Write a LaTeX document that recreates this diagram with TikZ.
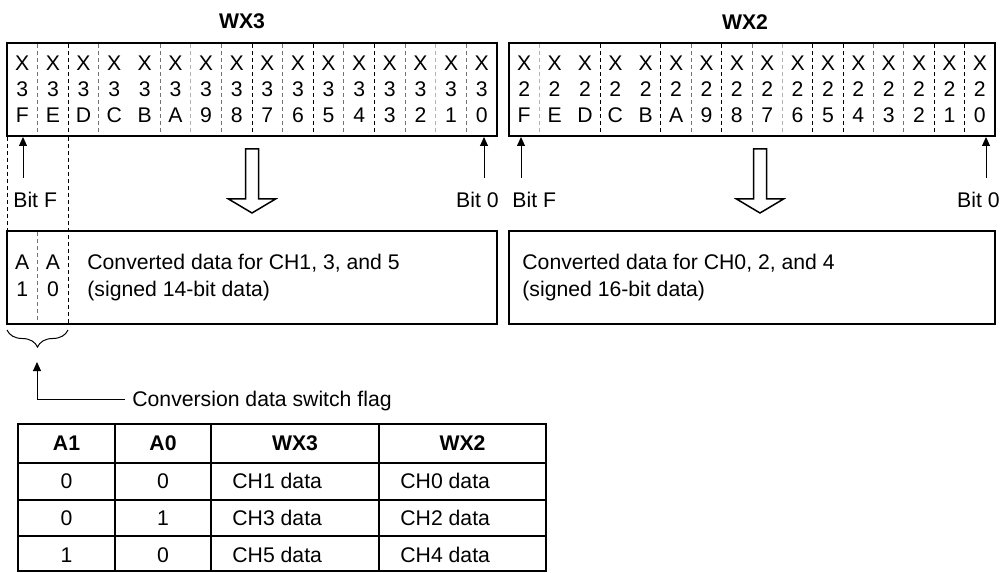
\documentclass[tikz,border=0pt]{standalone}
\usepackage{fontspec}
\setmainfont{Liberation Sans}
\usetikzlibrary{arrows.meta,decorations.pathreplacing}
\begin{document}
\begin{tikzpicture}[x=0.5pt,y=-0.5pt,
  txt/.style={inner sep=0pt, text height=7.59pt, text depth=0pt, font=\fontsize{10.6pt}{12.7pt}\selectfont},
  hdr/.style={txt, font=\fontsize{10.6pt}{12.7pt}\selectfont\bfseries},
  frame/.style={draw=black, line width=1pt, inner sep=0pt, minimum height=46.5pt},
  divd/.style={draw=black, line width=0.5pt, dash pattern=on 2pt off 1.5pt},
  divg/.style={divd, draw=black!55},
  divl/.style={divd, draw=black!30},
  arr/.style={line width=0.5pt, -{Triangle[length=4.5pt,width=4pt]}},
  hollow/.style={draw=black, line width=0.75pt, fill=white},
  grid/.style={draw=black, line width=1pt}]
\useasboundingbox (0,0) rectangle (1005,572);

% register titles
\node[hdr] (t3) at (242,21) {WX3};
\node[hdr] (t2) at (745,22) {WX2};

% registers
\node[frame, minimum width=245pt] (wx3) at (252,89.5) {};
\node[frame, minimum width=243pt] (wx2) at (752,89.5) {};

% bit cells of WX3 and WX2
\foreach \d [count=\i from 0] in {F,E,D,C,B,A,9,8,7,6,5,4,3,2,1,0} {
  \node[txt] (r3x\i) at ({7+30.625*(\i+0.5)},63) {X};
  \node[txt] (r3n\i) at ({7+30.625*(\i+0.5)},89) {3};
  \node[txt] (r3d\i) at ({7+30.625*(\i+0.5)},115) {\d};
  \node[txt] (r2x\i) at ({509+30.375*(\i+0.5)},63) {X};
  \node[txt] (r2n\i) at ({509+30.375*(\i+0.5)},89) {2};
  \node[txt] (r2d\i) at ({509+30.375*(\i+0.5)},115) {\d};
}

% cell dividers
\foreach \k/\s in {1/divg,2/divd,3/divg,5/divg,6/divl,7/divg,8/divd,9/divg,10/divd,11/divg,12/divd,13/divg,14/divl,15/divg}
  \draw[\s] ({7+30.625*\k},44) -- ({7+30.625*\k},135);
\foreach \k/\s in {1/divl,3/divd,5/divd,6/divg,7/divd,8/divg,9/divl,10/divd,11/divd,12/divg,13/divg,14/divd,15/divd}
  \draw[\s] ({509+30.375*\k},44) -- ({509+30.375*\k},135);

% bit position pointers
\coordinate (p3F) at (23,137);  \coordinate (q3F) at (23,178);
\coordinate (p30) at (484,137); \coordinate (q30) at (484,178);
\coordinate (p2F) at (521,137); \coordinate (q2F) at (521,178);
\coordinate (p20) at (986,137); \coordinate (q20) at (986,178);
\draw[arr] (q3F) -- (p3F);
\draw[arr] (q30) -- (p30);
\draw[arr] (q2F) -- (p2F);
\draw[arr] (q20) -- (p20);
\node[txt, anchor=west] (l3F) at (13,200) {Bit F};
\node[txt, anchor=east] (l30) at (499,200) {Bit 0};
\node[txt, anchor=west] (l2F) at (512,200) {Bit F};
\node[txt, anchor=east] (l20) at (1000,200) {Bit 0};

% conversion arrows
\draw[hollow] (245.5,149) -- (258.5,149) -- (258.5,199) -- (275.5,199) -- (252,213) -- (228.5,199) -- (245.5,199) -- cycle;
\draw[hollow] (753.5,149) -- (766.5,149) -- (766.5,199) -- (783.5,199) -- (760,213) -- (736.5,199) -- (753.5,199) -- cycle;

% converted data
\node[frame, minimum width=245pt] (cv3) at (252,277.5) {};
\node[frame, minimum width=243pt] (cv2) at (752,277.5) {};
\draw[divd] (7,137) -- (7,230);
\draw[divd] (68.25,137) -- (68.25,323);
\draw[divg] (37.6,232) -- (37.6,323);
\node[txt] (fa1) at (22.3,262) {A};
\node[txt] (fn1) at (22.3,289) {1};
\node[txt] (fa0) at (52.9,262) {A};
\node[txt] (fn0) at (52.9,289) {0};
\node[txt, anchor=west] (c3a) at (87,262) {Converted data for CH1, 3, and 5};
\node[txt, anchor=west] (c3b) at (87,289) {(signed 14-bit data)};
\node[txt, anchor=west] (c2a) at (522,262) {Converted data for CH0, 2, and 4};
\node[txt, anchor=west] (c2b) at (522,289) {(signed 16-bit data)};

% switch flag
\draw[line width=0.5pt, decorate, decoration={brace, mirror, amplitude=8.5pt, aspect=0.5}] (7,330) -- (68,330);
\coordinate (flagtip) at (37,362);
\node[txt, anchor=west, inner xsep=3.5pt] (flag) at (125,399) {Conversion data switch flag};
\draw[arr] (flag.west) -| (flagtip);

% flag table
\draw[grid] (18,424) rectangle (546,571);
\foreach \y in {463,500,536} \draw[grid] (18,\y) -- (546,\y);
\foreach \x in {115,211,379} \draw[grid] (\x,424) -- (\x,571);
\node[hdr] (h1) at (66.5,443) {A1};
\node[hdr] (h2) at (163,443) {A0};
\node[hdr] (h3) at (295,443) {WX3};
\node[hdr] (h4) at (462.5,443) {WX2};
\foreach \a/\b/\c/\e [count=\r] in {0/0/CH1/CH0,0/1/CH3/CH2,1/0/CH5/CH4} {
  \node[txt] (ta\r) at (66.5,{444+37*\r}) {\a};
  \node[txt] (tb\r) at (163,{444+37*\r}) {\b};
  \node[txt, anchor=west] (tc\r) at (232,{444+37*\r}) {\c{} data};
  \node[txt, anchor=west] (td\r) at (400,{444+37*\r}) {\e{} data};
}
\end{tikzpicture}
\end{document}
